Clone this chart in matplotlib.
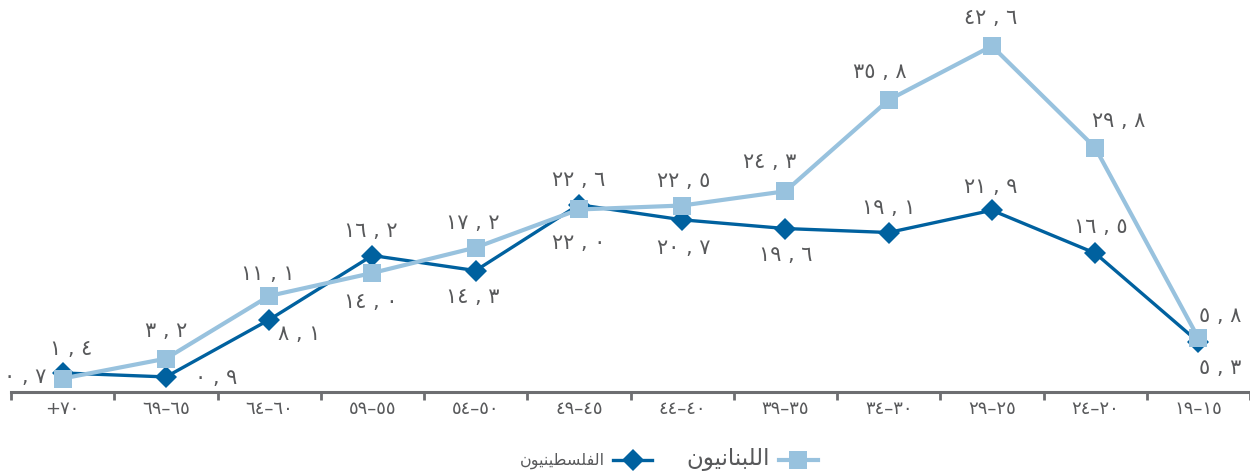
import matplotlib
matplotlib.use("Agg")
import matplotlib.pyplot as plt
from matplotlib.ticker import FixedLocator

# ---- data (left to right on the chart) ----
age_groups = ["+٧٠", "٦٩–٦٥", "٦٤–٦٠", "٥٩–٥٥", "٥٤–٥٠", "٤٩–٤٥",
              "٤٤–٤٠", "٣٩–٣٥", "٣٤–٣٠", "٢٩–٢٥", "٢٤–٢٠", "١٩–١٥"]
palestinians = [1.4, 0.9, 8.1, 16.2, 14.3, 22.6, 20.7, 19.6, 19.1, 21.9, 16.5, 5.3]
lebanese = [0.7, 3.2, 11.1, 14.0, 17.2, 22.0, 22.5, 24.3, 35.8, 42.6, 29.8, 5.8]

# legend labels (Arabic, given in presentation forms / visual order)
label_pal = "\uFEE5\uFEEE\uFEF4\uFEE8\uFEF4\uFEC4\uFEB4\uFEE0\uFED4\uFEDF\uFE8D"   # الفلسطينيون
label_leb = "\uFEE5\uFEEE\uFEF4\uFEE7\uFE8E\uFEE8\uFE92\uFEE0\uFEDF\uFE8D"         # اللبنانيون

# label offsets in points (dx, dy) – style only
pal_off = [(6, 17), (36, -1), (22, -10), (-1, 18), (-2, -19), (0, 18),
           (1, -20), (0, -19), (0, 18), (-1, 17), (4, 19), (16, -19)]
leb_off = [(-27, 1), (0, 20), (-1, 16), (-1, -21), (-2, 18), (0, -24),
           (1, 18), (-11, 21), (-6, 20), (-1, 20), (17, 19), (16, 16)]

DARK = "#00619f"
LIGHT = "#98c2de"
GRAY = "#6d6e71"
TXT = "#58595b"

def arabic_num(v):
    digits = "٠١٢٣٤٥٦٧٨٩"
    s = f"{v:.1f}"
    ip, fp = s.split(".")
    conv = lambda t: "".join(digits[int(c)] for c in t)
    return f"{conv(ip)} , {conv(fp)}"

plt.rcParams["font.family"] = ["DejaVu Sans"]

fig = plt.figure(figsize=(12.5, 4.73), dpi=100)
ax = fig.add_axes([11/1250, 1 - 392/473, 1 - 11/1250, 392/473])

x = list(range(len(age_groups)))
ax.plot(x, palestinians, color=DARK, lw=2.4, marker="D", ms=11,
        markeredgewidth=0, zorder=3, label=label_pal)
ax.plot(x, lebanese, color=LIGHT, lw=3.0, marker="s", ms=13,
        markeredgewidth=0, zorder=4, label=label_leb)

for i, v in enumerate(palestinians):
    ax.annotate(arabic_num(v), (i, v), xytext=pal_off[i], textcoords="offset points",
                ha="center", va="center", fontsize=15, color=TXT, zorder=6)
for i, v in enumerate(lebanese):
    ax.annotate(arabic_num(v), (i, v), xytext=leb_off[i], textcoords="offset points",
                ha="center", va="center", fontsize=15, color=TXT, zorder=6)

ax.set_xlim(-0.5, len(age_groups) - 0.5)
ax.set_ylim(-1.0, 48.4)

for s in ["top", "right", "left"]:
    ax.spines[s].set_visible(False)
ax.spines["bottom"].set_color(GRAY)
ax.spines["bottom"].set_linewidth(2.2)
ax.set_yticks([])

ax.set_xticks(x)
ax.set_xticklabels(age_groups, fontsize=13, color=TXT)
ax.tick_params(axis="x", which="major", length=0, pad=6)
ax.xaxis.set_minor_locator(FixedLocator([i - 0.5 for i in range(len(age_groups) + 1)]))
ax.tick_params(axis="x", which="minor", length=6, width=2, color=GRAY, direction="out")

leg = fig.legend(loc="center", bbox_to_anchor=(0.535, 1 - 459/473), ncol=2,
                 frameon=False, markerfirst=False, handlelength=2.8,
                 columnspacing=2.5, handletextpad=0.6)
leg.get_texts()[0].set_fontsize(11.5)
leg.get_texts()[0].set_color(TXT)
leg.get_texts()[1].set_fontsize(16.5)
leg.get_texts()[1].set_color(TXT)

fig.savefig("out.png", dpi=100)
